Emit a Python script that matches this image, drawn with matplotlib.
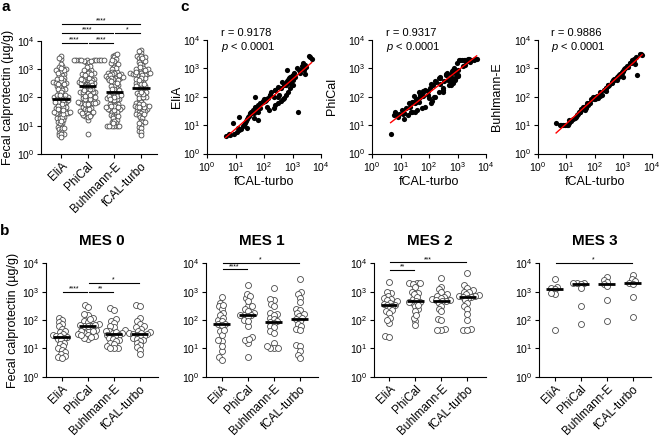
import numpy as np
import matplotlib
matplotlib.use("Agg")
import matplotlib.pyplot as plt
from matplotlib.ticker import NullLocator

plt.rcParams['font.family'] = 'Liberation Sans'
plt.rcParams['mathtext.fontset'] = 'custom'
plt.rcParams['mathtext.rm'] = 'Liberation Sans'
plt.rcParams['mathtext.it'] = 'Liberation Sans:italic'
plt.rcParams['mathtext.bf'] = 'Liberation Sans:bold'
plt.rcParams['axes.linewidth'] = 0.8

# Metody
methods = ["EliA", "PhiCal", "Buhlmann-E", "fCAL-turbo"]

# Dane pacjentów (µg/g), pary w tej samej kolejności dla każdej metody
# MES 0
elia_mes0 = [120, 100, 85, 70, 60, 50, 42, 38, 33, 30, 28, 27, 26, 24, 21, 19, 16, 14, 12, 10, 9, 7.5, 6.5, 5.5, 5, 4.5]
phical_mes0 = [350, 150, 280, 120, 45, 160, 40, 95, 70, 35, 85, 63, 30, 62, 110, 64, 65, 28, 42, 60, 22, 40, 26, 33, 24, 29]
buhl_mes0 = [270, 230, 105, 95, 80, 58, 60, 45, 40, 42, 36, 35, 38, 30, 28, 30, 24, 22, 20, 18, 16, 14, 12, 10, 10, 10]
fcal_mes0 = [330, 300, 120, 90, 75, 62, 55, 48, 42, 38, 35, 34, 33, 32, 30, 28, 26, 24, 22, 20, 18, 15, 13, 11, 9, 6.5]
# MES 1
elia_mes1 = [650, 400, 300, 250, 330, 180, 100, 150, 120, 90, 75, 70, 65, 40, 30, 45, 18, 20, 8, 12, 5, 4]
phical_mes1 = [1700, 600, 850, 300, 700, 450, 150, 320, 100, 250, 60, 200, 155, 180, 150, 140, 90, 16, 25, 20, 22, 5]
buhl_mes1 = [1400, 500, 550, 380, 300, 160, 170, 120, 150, 110, 90, 85, 80, 60, 55, 40, 35, 15, 10, 10, 10, 12]
fcal_mes1 = [2700, 1000, 800, 600, 420, 250, 230, 180, 160, 140, 120, 105, 95, 70, 60, 50, 45, 13, 12, 8, 6, 4.5]
# MES 2
elia_mes2 = [2200, 900, 1000, 700, 600, 550, 500, 450, 400, 380, 350, 330, 300, 250, 200, 220, 180, 120, 80, 100, 28, 26]
phical_mes2 = [2100, 2000, 1900, 2000, 550, 1500, 400, 1000, 300, 900, 440, 800, 250, 420, 650, 200, 480, 350, 90, 120, 65, 150]
buhl_mes2 = [3000, 1500, 1200, 950, 800, 700, 650, 600, 550, 500, 490, 470, 450, 400, 320, 250, 200, 110, 100, 48, 45, 45]
fcal_mes2 = [4700, 1700, 1400, 1100, 1000, 950, 800, 750, 700, 680, 660, 640, 600, 500, 400, 300, 250, 160, 100, 50, 46, 45]
# MES 3
elia_mes3 = [2800, 1300, 1500, 1200, 850, 900, 45]
phical_mes3 = [2000, 2000, 2100, 1800, 1300, 320, 70]
buhl_mes3 = [3200, 2600, 2200, 1900, 1600, 520, 90]
fcal_mes3 = [3800, 2800, 2400, 2100, 1900, 650, 130]
# pacjenci bez oceny MES (tylko panel a i c)
elia_nomes = [2500, 1100, 900, 700, 30, 500, 250, 300, 200, 150, 120, 90, 80, 70, 60, 50, 40, 35, 15, 8]
phical_nomes = [2100, 2000, 2100, 1900, 1200, 2000, 900, 500, 700, 350, 650, 250, 400, 600, 180, 280, 450, 100, 110, 30]
buhl_nomes = [3300, 600, 2000, 1500, 1100, 1000, 800, 750, 650, 600, 500, 420, 380, 330, 260, 200, 180, 120, 50, 22]
fcal_nomes = [4200, 3000, 2500, 1800, 1500, 1200, 1000, 900, 800, 700, 600, 500, 450, 400, 300, 250, 220, 150, 60, 25]

mes_titles = ["MES 0", "MES 1", "MES 2", "MES 3"]

# Istotność: (od, do, gwiazdki, poziom log10)
sig_a = [(0, 3, "****", 4.59), (0, 2, "****", 4.27), (2, 3, "*", 4.27),
         (0, 1, "****", 3.92), (1, 2, "****", 3.92)]
sig_b = [
    [(0, 1, "****", 3.0), (1, 2, "**", 3.0), (1, 3, "*", 3.32)],
    [(0, 1, "****", 3.79), (0, 3, "*", 4.02)],
    [(0, 1, "**", 3.76), (0, 3, "***", 4.03)],
    [(0, 3, "*", 4.02)],
]

# Korelacje (panel c)
r_texts = ["r = 0.9178", "r = 0.9317", "r = 0.9886"]

W, H = 660, 443
fig = plt.figure(figsize=(W / 100, H / 100), dpi=100)


def add_ax(l, t, r, b):
    return fig.add_axes([l / W, 1 - b / H, (r - l) / W, (b - t) / H])


def log_axis(ax, axis="y"):
    ticks = [1, 10, 100, 1000, 10000]
    labels = [r"$\mathregular{10^{%d}}$" % i for i in range(5)]
    if axis == "y":
        ax.set_yscale("log")
        ax.set_ylim(1, 10000)
        ax.set_yticks(ticks)
        ax.set_yticklabels(labels)
        ax.yaxis.set_minor_locator(NullLocator())
    else:
        ax.set_xscale("log")
        ax.set_xlim(1, 10000)
        ax.set_xticks(ticks)
        ax.set_xticklabels(labels)
        ax.xaxis.set_minor_locator(NullLocator())


def style(ax):
    ax.spines["top"].set_visible(False)
    ax.spines["right"].set_visible(False)
    ax.tick_params(direction="out", length=3, width=0.8, labelsize=7.5, pad=1.5)


def swarm_x(ax, values, center, diam):
    # rozmieszczenie punktów (beeswarm) w pikselach
    pts = ax.transData.transform(np.column_stack([np.full(len(values), center), values]))
    ys = pts[:, 1]
    x0 = pts[0, 0]
    offs = np.zeros(len(values))
    placed = []
    for i in np.argsort(ys):
        y = ys[i]
        forb = []
        for px, py in placed:
            dy = abs(py - y)
            if dy < diam:
                dx = np.sqrt(diam ** 2 - dy ** 2)
                forb.append((px - dx, px + dx))
        cands = [0.0] + [a for a, b in forb] + [b for a, b in forb]
        cands.sort(key=abs)
        for c in cands:
            if all(not (a + 1e-6 < c < b - 1e-6) for a, b in forb):
                offs[i] = c
                break
        placed.append((offs[i], y))
    back = ax.transData.inverted().transform(np.column_stack([x0 + offs, ys]))
    return back[:, 0]


def column_plot(ax, groups, diam, ms, xlim):
    log_axis(ax, "y")
    ax.set_xlim(*xlim)
    style(ax)
    for k, vals in enumerate(groups):
        xs = swarm_x(ax, vals, k, diam)
        ax.scatter(xs, vals, s=ms ** 2, facecolor="white", edgecolor="#4a4a4a",
                   linewidth=0.6, zorder=3, clip_on=False)
        ax.hlines(np.median(vals), k - 0.32, k + 0.32, color="black", lw=2, zorder=4)
    ax.set_xticks(range(len(groups)))
    ax.set_xticklabels(methods, rotation=45, ha="right", rotation_mode="anchor", fontsize=8.5)


def sig_bars(ax, comps):
    for x1, x2, lab, lv in comps:
        y = 10 ** lv
        ax.plot([x1 + 0.04, x2 - 0.04], [y, y], color="black", lw=0.8, clip_on=False)
        ax.text((x1 + x2) / 2, 10 ** (lv + 0.1), lab, ha="center", va="center",
                fontsize=5, clip_on=False)


# Panel a
ax_a = add_ax(41, 40.7, 157, 154)
elia_all = np.concatenate([elia_mes0, elia_mes1, elia_mes2, elia_mes3, elia_nomes])
phical_all = np.concatenate([phical_mes0, phical_mes1, phical_mes2, phical_mes3, phical_nomes])
buhl_all = np.concatenate([buhl_mes0, buhl_mes1, buhl_mes2, buhl_mes3, buhl_nomes])
fcal_all = np.concatenate([fcal_mes0, fcal_mes1, fcal_mes2, fcal_mes3, fcal_nomes])
column_plot(ax_a, [elia_all, phical_all, buhl_all, fcal_all], 2.5, 3.5, (-0.75, 3.6))
sig_bars(ax_a, sig_a)
ax_a.set_ylabel("Fecal calprotectin (µg/g)", fontsize=9, labelpad=2)

# Panel b
mes_groups = [
    [elia_mes0, phical_mes0, buhl_mes0, fcal_mes0],
    [elia_mes1, phical_mes1, buhl_mes1, fcal_mes1],
    [elia_mes2, phical_mes2, buhl_mes2, fcal_mes2],
    [elia_mes3, phical_mes3, buhl_mes3, fcal_mes3],
]
b_left = [46, 206, 373.5, 539]
for i in range(4):
    ax = add_ax(b_left[i], 263.3, b_left[i] + 112, 376.7)
    column_plot(ax, mes_groups[i], 3.8, 4.3, (-0.6, 3.7))
    sig_bars(ax, sig_b[i])
    ax.set_title(mes_titles[i], fontsize=11, fontweight="bold", pad=13)
    if i == 0:
        ax.set_ylabel("Fecal calprotectin (µg/g)", fontsize=9, labelpad=2)

# Panel c
c_left = [207, 372, 537.5]
c_label_x = [-0.21, -0.30, -0.30]
c_y = [elia_all, phical_all, buhl_all]
for i in range(3):
    ax = add_ax(c_left[i], 40, c_left[i] + 114, 153.5)
    log_axis(ax, "x")
    log_axis(ax, "y")
    style(ax)
    ax.scatter(fcal_all, c_y[i], s=14, color="black", linewidth=0, zorder=3)
    k, b0 = np.polyfit(np.log10(fcal_all), np.log10(c_y[i]), 1)
    xl = np.array([fcal_all.min(), fcal_all.max()])
    ax.plot(xl, 10 ** (b0 + k * np.log10(xl)), color="red", lw=1, zorder=4)
    ax.text(0.12, 1.06, r_texts[i], transform=ax.transAxes, fontsize=8, va="center")
    ax.text(0.12, 0.94, r"$\mathit{p}$ < 0.0001", transform=ax.transAxes, fontsize=8, va="center")
    ax.set_xlabel("fCAL-turbo", fontsize=9, labelpad=2)
    ax.set_ylabel(methods[i], fontsize=9)
    ax.yaxis.set_label_coords(c_label_x[i], 0.5)

# Litery paneli
fig.text(6 / W, 1 - 7 / H, "a", fontsize=11, fontweight="bold", ha="center", va="center")
fig.text(5 / W, 1 - 231 / H, "b", fontsize=11, fontweight="bold", ha="center", va="center")
fig.text(185 / W, 1 - 7 / H, "c", fontsize=11, fontweight="bold", ha="center", va="center")

fig.savefig("out.png", dpi=100)
